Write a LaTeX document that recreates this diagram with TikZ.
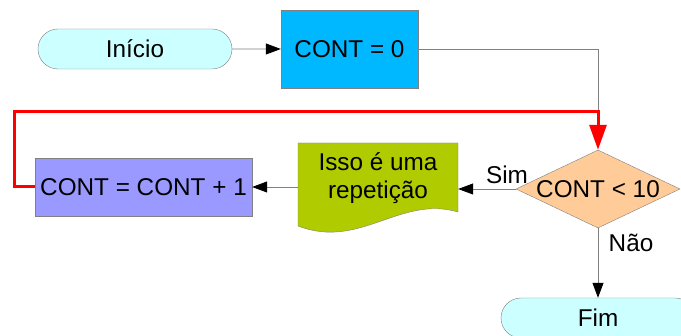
\documentclass[tikz,border=0pt]{standalone}
\usepackage{fontspec}
\setmainfont{Liberation Sans}
\usetikzlibrary{arrows.meta,shapes.geometric,shapes.misc}

\definecolor{linegray}{HTML}{808080}
\definecolor{termcol}{HTML}{CCFFFF}
\definecolor{zerocol}{HTML}{00B8FF}
\definecolor{incrcol}{HTML}{9999FF}
\definecolor{condcol}{HTML}{FFCC99}
\definecolor{doccol}{HTML}{B0CC00}

\begin{document}
\begin{tikzpicture}
    [x=1pt, y=-1pt, >={Triangle[length=15pt,width=11pt,color=black]},
     every node/.style={font=\fontsize{24.3}{28}\selectfont, inner sep=0pt},
     terminal/.style={rounded rectangle, draw=linegray, fill=termcol,
                      minimum width=194pt, minimum height=40pt},
     process/.style={rectangle, draw=linegray},
     decision/.style={diamond, draw=linegray, fill=condcol, aspect=2.1,
                      minimum width=164pt, minimum height=78pt},
     flow/.style={draw=linegray, line width=0.8pt},
     back/.style={draw=red, line width=3pt}]

    \useasboundingbox (0,0) rectangle (681,336);

    \node (inicio) [terminal] at (135,49) {Início};
    \node (zero) [process, fill=zerocol, minimum width=137pt, minimum height=78pt]
          at (349.5,49) {CONT = 0};
    \node (cond) [decision] at (598,189) {CONT < 10};
    \node (incr) [process, fill=incrcol, minimum width=217pt, minimum height=58pt]
          at (143.5,187) {CONT = CONT + 1};
    \node (fim) [terminal] at (598,318) {Fim};

    % documento com a base ondulada
    \filldraw[draw=linegray, fill=doccol] (298,143) -- (458,143) -- (458,212)
        .. controls (400,195) and (360,250) .. (298,226) -- cycle;
    \node (rep) [align=center, minimum width=160pt, minimum height=70pt]
          at (378,178) {Isso é uma\\repetição};

    \node (sim) at (507,175) {Sim};
    \node (nao) at (631,243) {Não};

    \coordinate (join) at (598,112);

    \draw[flow, ->] (inicio) -- (zero);
    \draw[flow] (zero.east) -| (join);
    \draw[back, -{Triangle[length=25pt,width=17pt]}]
        (incr.west) -- ++(-20,0) |- (join) -- (cond.north);
    \draw[flow, ->] (cond) -- (cond -| rep.east);
    \draw[flow, ->] (rep.west |- incr) -- (incr);
    \draw[flow, ->] (cond) -- (fim);
\end{tikzpicture}
\end{document}
